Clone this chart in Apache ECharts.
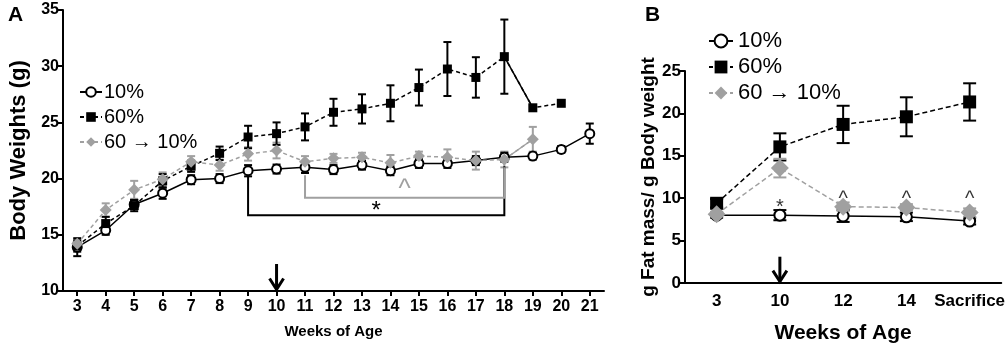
<!DOCTYPE html>
<html>
<head>
<meta charset="utf-8">
<script src="https://cdn.jsdelivr.net/npm/echarts@6/dist/echarts.min.js"></script>
<style>
html, body { margin: 0; padding: 0; background: #fff; }
#chart { width: 1008px; height: 349px; }
</style>
</head>
<body>
<div id="chart"></div>
<script>
// panel A - body weights by week
const weeks = ['3', '4', '5', '6', '7', '8', '9', '10', '11', '12', '13', '14', '15', '16', '17', '18', '19', '20', '21'];
const bwLow = [13.9, 15.4, 17.7, 18.7, 19.9, 20.0, 20.7, 20.85, 21.0, 20.8, 21.2, 20.7, 21.35, 21.35, 21.6, 21.9, 22.0, 22.6, 24.0];
const bwLowErr = [0.8, 0.4, 0.4, 0.5, 0.4, 0.4, 0.5, 0.4, 0.5, 0.4, 0.4, 0.4, 0.4, 0.4, 0.4, 0.4, 0.3, 0.3, 0.9];
const bwHigh = [14.0, 16.0, 17.6, 19.8, 21.1, 22.25, 23.7, 24.0, 24.6, 25.9, 26.2, 26.7, 28.1, 29.75, 29.0, 30.85, 26.3, 26.7];
const bwHighErr = [0.5, 0.6, 0.5, 0.6, 0.5, 0.6, 1.0, 1.0, 1.2, 1.2, 1.3, 1.6, 1.6, 2.4, 1.8, 3.3, 0, 0];
const bwSwitch = [14.2, 17.2, 19.0, 19.95, 21.5, 21.2, 22.2, 22.5, 21.5, 21.8, 21.9, 21.4, 22.0, 21.9, 21.6, 21.7, 23.5];
const bwSwitchErr = [0.4, 0.6, 0.8, 0.6, 0.5, 0.5, 0.6, 0.7, 0.5, 0.4, 0.4, 0.7, 0.4, 0.7, 0.8, 0.7, 1.1];
// significance brackets: [from week idx, to week idx, bracket level, top at from, top at to]
const bracketStar = [6, 15, 16.75, 20.15, 21.1];
const bracketHat = [8, 15, 18.3, 20.3, 21.0];
const arrowA = [7, 12.4, 10.05];
// week 18 -> 19 drawn solid in the original
const solidFrom = 15, solidTo = 16;

// panel B - fat mass / body weight
const fatCats = ['3', '10', '12', '14', 'Sacrifice'];
const fatLow = [8.0, 8.0, 7.9, 7.8, 7.3];
const fatLowErr = [0.3, 0.6, 0.7, 0.5, 0.4];
const fatHigh = [9.4, 16.05, 18.7, 19.6, 21.35];
const fatHighErr = [0.5, 1.6, 2.2, 2.3, 2.2];
const fatSwitch = [8.1, 13.55, 9.0, 8.9, 8.3];
const fatSwitchErr = [0.3, 1.1, 0.5, 0.4, 0.5];
const marksB = [['10', 8.9, '*'], ['12', 9.9, '^'], ['14', 9.9, '^'], ['Sacrifice', 9.9, '^']];
const arrowB = [1, 3.1, 0.05];

const FONT = '"Liberation Sans", Arial, sans-serif';
const GRAY = '#a0a0a0';

const chart = echarts.init(document.getElementById('chart'));

function errData(vals, errs) {
  return vals.map((v, i) => [i, v - errs[i], v + errs[i]]).filter((d, i) => errs[i] > 0);
}

function errSeries(idx, vals, errs, color, capW) {
  return {
    type: 'custom',
    xAxisIndex: idx,
    yAxisIndex: idx,
    silent: true,
    z: 1,
    encode: { x: 0, y: [1, 2] },
    data: errData(vals, errs),
    renderItem: function (params, api) {
      const top = api.coord([api.value(0), api.value(2)]);
      const bot = api.coord([api.value(0), api.value(1)]);
      const hw = capW / 2;
      const st = { stroke: color, lineWidth: 2 };
      return {
        type: 'group',
        children: [
          { type: 'line', shape: { x1: top[0], y1: top[1], x2: bot[0], y2: bot[1] }, style: st },
          { type: 'line', shape: { x1: top[0] - hw, y1: top[1], x2: top[0] + hw, y2: top[1] }, style: st },
          { type: 'line', shape: { x1: bot[0] - hw, y1: bot[1], x2: bot[0] + hw, y2: bot[1] }, style: st }
        ]
      };
    }
  };
}

function bracketSeries(b, color, text, fontSize, lift) {
  return {
    type: 'custom',
    xAxisIndex: 0,
    yAxisIndex: 0,
    silent: true,
    encode: { x: 0, y: 2 },
    data: [b],
    renderItem: function (params, api) {
      const a1 = api.coord([api.value(0), api.value(3)]);
      const a2 = api.coord([api.value(0), api.value(2)]);
      const b2 = api.coord([api.value(1), api.value(2)]);
      const b1 = api.coord([api.value(1), api.value(4)]);
      return {
        type: 'group',
        children: [
          { type: 'polyline', shape: { points: [a1, a2, b2, b1] }, style: { stroke: color, lineWidth: 2, fill: null } },
          {
            type: 'text',
            style: {
              text: text, x: (a2[0] + b2[0]) / 2, y: a2[1] - lift,
              align: 'center', verticalAlign: 'middle',
              fill: color, font: fontSize + 'px ' + FONT
            }
          }
        ]
      };
    }
  };
}

function arrowSeries(idx, a) {
  return {
    type: 'custom',
    xAxisIndex: idx,
    yAxisIndex: idx,
    silent: true,
    encode: { x: 0, y: 1 },
    data: [a],
    renderItem: function (params, api) {
      const t = api.coord([api.value(0), api.value(1)]);
      const b = api.coord([api.value(0), api.value(2)]);
      const st = { stroke: '#000', lineWidth: 3, fill: null };
      return {
        type: 'group',
        children: [
          { type: 'line', shape: { x1: t[0], y1: t[1], x2: b[0], y2: b[1] - 1 }, style: st },
          { type: 'polyline', shape: { points: [[b[0] - 7, b[1] - 12], [b[0], b[1] - 1], [b[0] + 7, b[1] - 12]] }, style: st }
        ]
      };
    }
  };
}

function lineSeries(idx, name, data, opts) {
  return Object.assign({
    type: 'line',
    name: name,
    xAxisIndex: idx,
    yAxisIndex: idx,
    data: data,
    z: 3,
    animation: false
  }, opts);
}

function solidPart(vals, color) {
  return lineSeries(0, '', vals.map((v, i) => (i >= solidFrom && i <= solidTo ? v : null)), {
    symbol: 'none', z: 2,
    lineStyle: { color: color, width: 1.5 }
  });
}

const sizeA = { circle: 9, rect: 9, diamond: 12 };
const sizeB = { circle: 11, rect: 13, diamond: 18 };

function axisCommon(fontSize) {
  return {
    axisLine: { show: true, lineStyle: { color: '#000', width: 2 } },
    axisTick: { show: true, length: 5, lineStyle: { color: '#000', width: 2 } },
    axisLabel: { color: '#000', fontWeight: 'bold', fontSize: fontSize, fontFamily: FONT },
    splitLine: { show: false }
  };
}

const option = {
  animation: false,
  backgroundColor: '#fff',
  title: [
    { text: 'A', left: 3, top: 0, textStyle: { fontSize: 21, fontWeight: 'bold', fontFamily: FONT, color: '#000' } },
    { text: 'B', left: 640, top: 0, textStyle: { fontSize: 21, fontWeight: 'bold', fontFamily: FONT, color: '#000' } }
  ],
  grid: [
    { left: 54, right: 404, top: 10, bottom: 58 },
    { left: 685, right: 6, top: 71, bottom: 61 }
  ],
  legend: [
    {
      orient: 'vertical', left: 74, top: 77, itemGap: 5, itemWidth: 22, itemHeight: 12,
      data: ['10%', '60%', '60 \u2192 10%'],
      textStyle: { fontSize: 20, fontFamily: FONT, color: '#000', padding: [0, 0, 0, -3] },
      selectedMode: false
    },
    {
      orient: 'vertical', left: 703, top: 25, itemGap: 4, itemWidth: 24, itemHeight: 16,
      data: ['10%', '60%', '60 \u2192 10%'],
      textStyle: { fontSize: 22, fontFamily: FONT, color: '#000', padding: [0, 0, 0, 0] },
      selectedMode: false
    }
  ],
  xAxis: [
    Object.assign(axisCommon(16), {
      type: 'category', gridIndex: 0, data: weeks, boundaryGap: true,
      axisTick: { show: true, alignWithLabel: true, length: 5, lineStyle: { color: '#000', width: 2 } },
      axisLabel: { color: '#000', fontWeight: 'bold', fontSize: 16, fontFamily: FONT, margin: 8, interval: 0 },
      name: 'Weeks of Age', nameLocation: 'middle', nameGap: 33,
      nameTextStyle: { fontWeight: 'bold', fontSize: 15, fontFamily: FONT, color: '#000' }
    }),
    Object.assign(axisCommon(17), {
      type: 'category', gridIndex: 1, data: fatCats, boundaryGap: true,
      axisTick: { show: false },
      axisLabel: { color: '#000', fontWeight: 'bold', fontSize: 17, fontFamily: FONT, margin: 10, interval: 0 },
      name: 'Weeks of Age', nameLocation: 'middle', nameGap: 40,
      nameTextStyle: { fontWeight: 'bold', fontSize: 21, fontFamily: FONT, color: '#000' }
    })
  ],
  yAxis: [
    Object.assign(axisCommon(15), {
      type: 'value', gridIndex: 0, min: 10, max: 35, interval: 5,
      axisLabel: { color: '#000', fontWeight: 'bold', fontSize: 16, fontFamily: FONT, margin: 4 },
      name: 'Body Weights (g)', nameLocation: 'middle', nameGap: 33,
      nameTextStyle: { fontWeight: 'bold', fontSize: 22, fontFamily: FONT, color: '#000' }
    }),
    Object.assign(axisCommon(17), {
      type: 'value', gridIndex: 1, min: 0, max: 25, interval: 5,
      axisLabel: { color: '#000', fontWeight: 'bold', fontSize: 17, fontFamily: FONT, margin: 4 },
      name: 'g Fat mass/ g Body weight', nameLocation: 'middle', nameGap: 19,
      nameTextStyle: { fontWeight: 'bold', fontSize: 19, fontFamily: FONT, color: '#000' }
    })
  ],
  series: [
    // panel A
    errSeries(0, bwSwitch, bwSwitchErr, GRAY, 8),
    errSeries(0, bwLow, bwLowErr, '#000', 8),
    errSeries(0, bwHigh, bwHighErr, '#000', 8),
    solidPart(bwHigh, '#000'),
    solidPart(bwSwitch, GRAY),
    lineSeries(0, '10%', bwLow, {
      symbol: 'emptyCircle', symbolSize: sizeA.circle,
      lineStyle: { color: '#000', width: 1.5 },
      itemStyle: { color: '#000', borderWidth: 2 }
    }),
    lineSeries(0, '60%', bwHigh, {
      symbol: 'rect', symbolSize: sizeA.rect,
      lineStyle: { color: '#000', width: 1.5, type: [4, 3] },
      itemStyle: { color: '#000' }
    }),
    lineSeries(0, '60 \u2192 10%', bwSwitch, {
      symbol: 'diamond', symbolSize: sizeA.diamond,
      lineStyle: { color: GRAY, width: 1.5, type: [4, 3] },
      itemStyle: { color: GRAY }
    }),
    bracketSeries(bracketStar, '#000', '*', 24, 4),
    bracketSeries(bracketHat, GRAY, '^', 26, 8),
    arrowSeries(0, arrowA),
    // panel B
    errSeries(1, fatLow, fatLowErr, '#000', 13),
    errSeries(1, fatHigh, fatHighErr, '#000', 13),
    errSeries(1, fatSwitch, fatSwitchErr, GRAY, 13),
    lineSeries(1, '10%', fatLow, {
      symbol: 'emptyCircle', symbolSize: sizeB.circle,
      lineStyle: { color: '#000', width: 1.5 },
      itemStyle: { color: '#000', borderWidth: 3 }
    }),
    lineSeries(1, '60%', fatHigh, {
      symbol: 'rect', symbolSize: sizeB.rect,
      lineStyle: { color: '#000', width: 1.5, type: [5, 3] },
      itemStyle: { color: '#000' }
    }),
    lineSeries(1, '60 \u2192 10%', fatSwitch, {
      symbol: 'diamond', symbolSize: sizeB.diamond,
      lineStyle: { color: GRAY, width: 1.5, type: [5, 3] },
      itemStyle: { color: GRAY }
    }),
    {
      type: 'scatter',
      xAxisIndex: 1,
      yAxisIndex: 1,
      silent: true,
      symbolSize: 0,
      data: marksB,
      label: {
        show: true, position: 'inside', color: '#000', fontSize: 20, fontFamily: FONT,
        formatter: p => p.data[2]
      }
    },
    arrowSeries(1, arrowB)
  ]
};

chart.setOption(option);
</script>
</body>
</html>
